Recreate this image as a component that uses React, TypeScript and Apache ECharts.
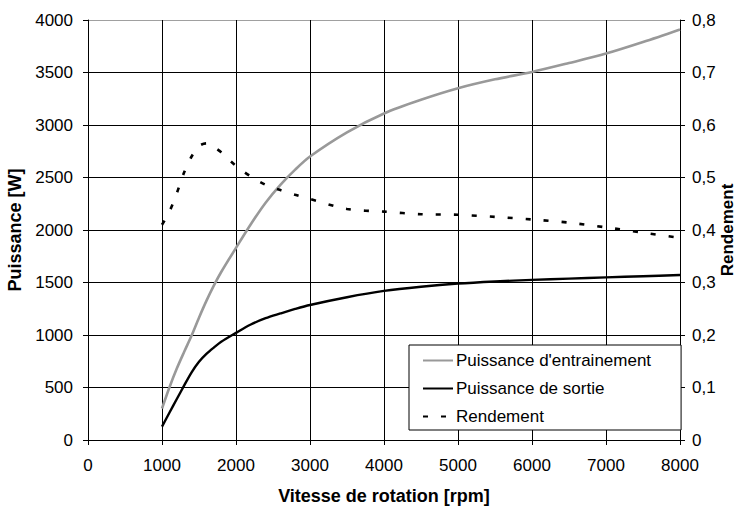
import React, { useEffect, useRef } from "react";
import * as echarts from "echarts";

const rpm = [1000, 1100, 1200, 1300, 1400, 1500, 1600, 1700, 1800, 2000, 2200, 2400, 2600, 2800, 3000, 3500, 4000, 4500, 5000, 5500, 6000, 6500, 7000, 7500, 8000];
const puissanceEntrainement = [300, 500, 680, 840, 995, 1165, 1325, 1470, 1600, 1830, 2055, 2260, 2430, 2575, 2700, 2930, 3110, 3240, 3350, 3435, 3505, 3590, 3680, 3790, 3910];
const puissanceSortie = [127, 260, 390, 520, 645, 745, 820, 880, 935, 1020, 1100, 1160, 1205, 1248, 1286, 1360, 1420, 1460, 1490, 1510, 1525, 1537, 1549, 1560, 1571];
const rendement = [0.41, 0.435, 0.47, 0.51, 0.54, 0.56, 0.565, 0.558, 0.548, 0.522, 0.502, 0.486, 0.476, 0.467, 0.459, 0.44, 0.435, 0.43, 0.429, 0.425, 0.42, 0.414, 0.405, 0.395, 0.385];

const seriesNames = ["Puissance d'entrainement", "Puissance de sortie", "Rendement"];
const rightTitle = "Rendement";

const FONT = "Liberation Sans, Arial, sans-serif";

export default function App() {
  const ref = useRef<HTMLDivElement>(null);
  useEffect(() => {
    if (!ref.current) return;
    const chart = echarts.init(ref.current, undefined, { renderer: "svg" });
    const pair = (ys: number[]) => rpm.map((x, i) => [x, ys[i]]);
    const gridColors = ["#000", "#000", "#000", "#000", "#000", "#000", "#000", "#000", "#a0a0a0"];
    const plain = (v: number) => String(Math.round(v));
    chart.setOption({
      animation: false,
      backgroundColor: "#fff",
      textStyle: { fontFamily: FONT },
      grid: { left: 88, right: 58, top: 20, bottom: 66, containLabel: false, outerBoundsMode: "none" },
      graphic: [
        {
          type: "text",
          x: 727,
          y: 230,
          rotation: Math.PI / 2,
          style: {
            text: rightTitle,
            fontFamily: FONT,
            fontSize: 17,
            fontWeight: "bold",
            fill: "#000",
            align: "center",
            verticalAlign: "middle",
          },
        },
      ],
      legend: {
        data: seriesNames,
        orient: "vertical",
        left: 409,
        top: 345,
        itemWidth: 30,
        itemHeight: 14,
        itemGap: 11,
        padding: [7, 30, 5, 13],
        backgroundColor: "#fff",
        borderColor: "#000",
        borderWidth: 1,
        borderRadius: 0,
        itemStyle: { opacity: 0 },
        textStyle: { fontFamily: FONT, fontSize: 17, color: "#000", padding: [0, 0, 0, -2] },
      },
      xAxis: {
        type: "value",
        min: 0,
        max: 8000,
        interval: 1000,
        name: "Vitesse de rotation [rpm]",
        nameLocation: "middle",
        nameGap: 47,
        nameTextStyle: { fontFamily: FONT, fontSize: 18, fontWeight: "bold", color: "#000" },
        axisLine: { show: true, lineStyle: { color: "#000", width: 1 } },
        axisTick: { show: true, length: 5, lineStyle: { color: "#000" } },
        axisLabel: { margin: 17, fontSize: 17, color: "#000", fontFamily: FONT, formatter: plain },
        splitLine: { show: true, lineStyle: { color: "#000", width: 1 } },
      },
      yAxis: [
        {
          type: "value",
          min: 0,
          max: 4000,
          interval: 500,
          position: "left",
          name: "Puissance [W]",
          nameLocation: "middle",
          nameGap: 62,
          nameTextStyle: { fontFamily: FONT, fontSize: 18, fontWeight: "bold", color: "#000" },
          axisLine: { show: true, lineStyle: { color: "#000", width: 1 } },
          axisTick: { show: true, length: 5, lineStyle: { color: "#000" } },
          axisLabel: { margin: 15, fontSize: 17, color: "#000", fontFamily: FONT, formatter: plain },
          splitLine: { show: true, lineStyle: { color: gridColors, width: 1 } },
        },
        {
          type: "value",
          min: 0,
          max: 0.8,
          interval: 0.1,
          position: "right",
          axisLine: { show: true, lineStyle: { color: "#000", width: 1 } },
          axisTick: { show: true, length: 5, lineStyle: { color: "#000" } },
          axisLabel: {
            margin: 12,
            fontSize: 17,
            color: "#000",
            fontFamily: FONT,
            formatter: (v: number) => String(+v.toFixed(1)).replace(".", ","),
          },
          splitLine: { show: false },
        },
      ],
      series: [
        {
          name: seriesNames[0],
          type: "line",
          yAxisIndex: 0,
          data: pair(puissanceEntrainement),
          smooth: 0.3,
          symbol: "none",
          lineStyle: { color: "#999999", width: 2.6 },
          itemStyle: { color: "#999999" },
          z: 3,
        },
        {
          name: seriesNames[1],
          type: "line",
          yAxisIndex: 0,
          data: pair(puissanceSortie),
          smooth: 0.3,
          symbol: "none",
          lineStyle: { color: "#000", width: 2.4 },
          itemStyle: { color: "#000" },
          z: 3,
        },
        {
          name: seriesNames[2],
          type: "line",
          yAxisIndex: 1,
          data: pair(rendement),
          smooth: 0.3,
          symbol: "none",
          lineStyle: { color: "#000", width: 2.6, type: [5, 13] },
          itemStyle: { color: "#000" },
          z: 3,
        },
      ],
    });
    return () => chart.dispose();
  }, []);
  return (
    <div
      ref={ref}
      style={{ position: "fixed", left: 0, top: 0, width: 738, height: 506 }}
    />
  );
}
